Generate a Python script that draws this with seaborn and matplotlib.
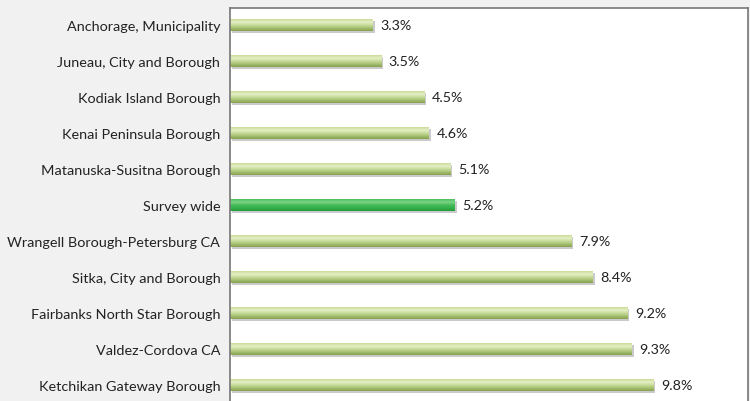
import matplotlib
matplotlib.use("Agg")
import numpy as np
import pandas as pd
import seaborn as sns
import matplotlib.pyplot as plt
from matplotlib.colors import LinearSegmentedColormap
from matplotlib.transforms import ScaledTranslation

# values
areas = ["Anchorage, Municipality", "Juneau, City and Borough", "Kodiak Island Borough",
         "Kenai Peninsula Borough", "Matanuska-Susitna Borough", "Survey wide",
         "Wrangell Borough-Petersburg CA", "Sitka, City and Borough",
         "Fairbanks North Star Borough", "Valdez-Cordova CA", "Ketchikan Gateway Borough"]
rates = [3.3, 3.5, 4.5, 4.6, 5.1, 5.2, 7.9, 8.4, 9.2, 9.3, 9.8]

df = pd.DataFrame({"Area": areas, "Rate": rates})

sns.set_theme(style="white")
plt.rcParams['font.family'] = ['Lato', 'DejaVu Sans']

fig = plt.figure(figsize=(7.5, 4.02), dpi=100)
fig.patch.set_facecolor("#f1f1f1")
# plot box starts at x=230, y=9 from top and runs past the bottom edge
ax = fig.add_axes([230 / 750, -3 / 402, 518 / 750, 396 / 402])

bar_w = 0.32

#gray drop shadow, shifted right/down a bit
sns.barplot(data=df, x="Rate", y="Area", color="#a0a0a0", width=bar_w, ax=ax,
            orient="h", linewidth=0)
shift = ScaledTranslation(1.5 / 72, -1.5 / 72, fig.dpi_scale_trans)
for p in ax.patches:
    p.set_transform(ax.transData + shift)
    p.set_alpha(0.55)
n_shadow = len(ax.patches)

#the real bars
sns.barplot(data=df, x="Rate", y="Area", color="#a5bf6e", width=bar_w, ax=ax,
            orient="h", linewidth=0)

olive = LinearSegmentedColormap.from_list("olive", ["#86a04f", "#a6c071", "#c7db99", "#e6f0c6", "#c8da98"])
green = LinearSegmentedColormap.from_list("green", ["#249a3a", "#33b14b", "#45bb57", "#7ed38a", "#4cbf5e"])

#vertical gradient clipped to each bar
grad = np.linspace(0, 1, 64).reshape(-1, 1)
for p, a in zip(ax.patches[n_shadow:], areas):
    x0, y0 = p.get_x(), p.get_y()
    w, h = p.get_width(), p.get_height()
    cmap = green if a == "Survey wide" else olive
    im = ax.imshow(grad, cmap=cmap, aspect="auto", origin="upper",
                   extent=[x0, x0 + w, y0, y0 + h], zorder=p.get_zorder() + 0.1)
    im.set_clip_path(p)

for i, r in enumerate(rates):
    ax.text(r + 0.18, i, f"{r}%", va="center", ha="left", fontsize=10.3, color="#222222")

ax.set_xlim(0, 12)
ax.set_ylim(10.53, -0.47)
ax.set_xlabel("")
ax.set_ylabel("")
ax.set_xticks([])
ax.tick_params(axis="y", length=0, labelsize=10.4, pad=7, labelcolor="#222222")
ax.set_facecolor("white")
for s in ax.spines.values():
    s.set_color("#777777")
    s.set_linewidth(1.2)

fig.savefig("out.png", dpi=100, facecolor=fig.get_facecolor())
